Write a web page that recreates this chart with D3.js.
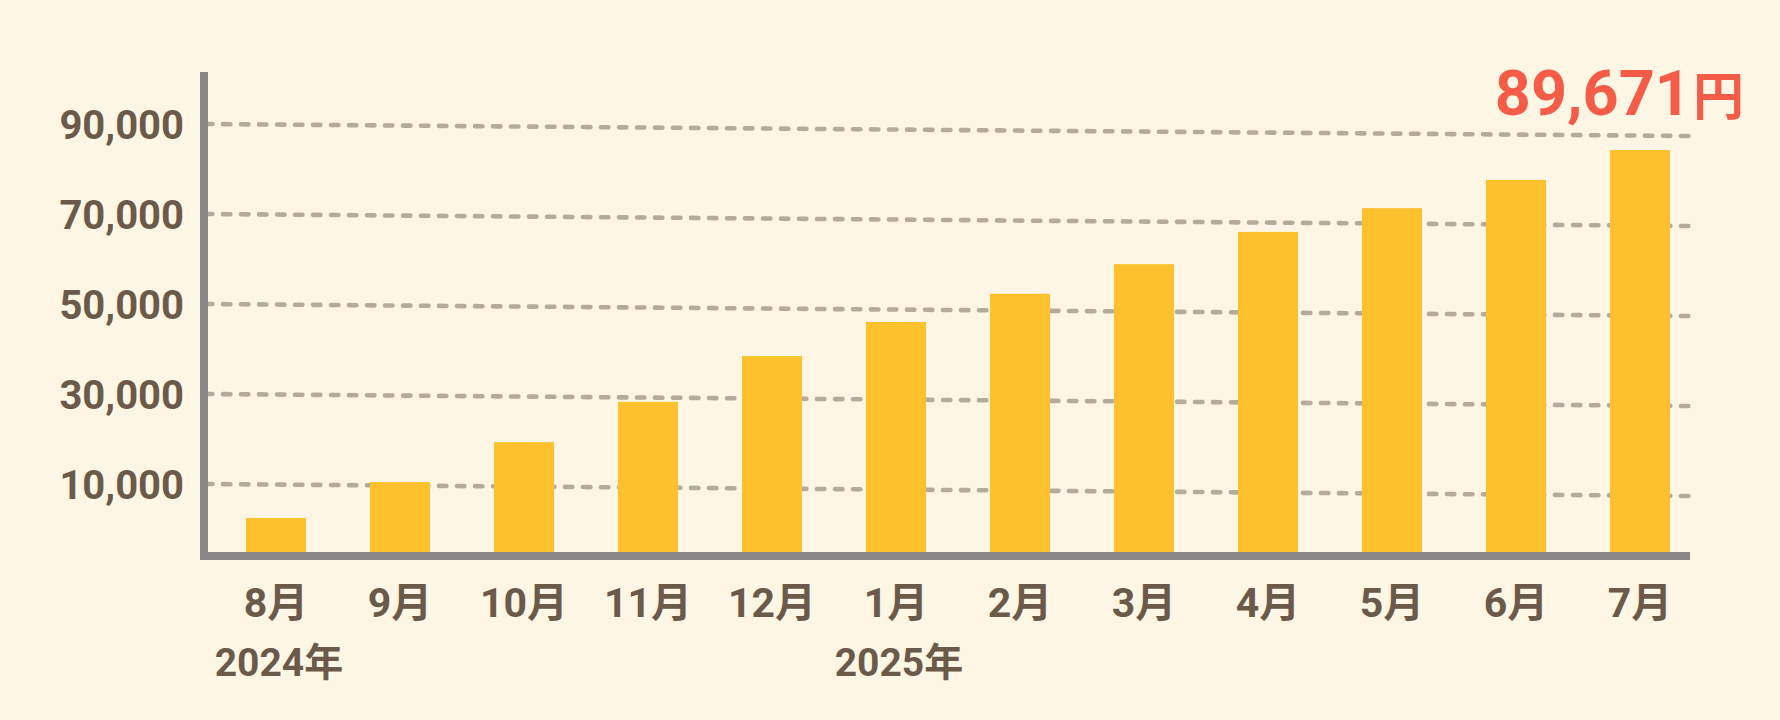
<!DOCTYPE html>
<html>
<head>
<meta charset="utf-8">
<script src="https://cdn.jsdelivr.net/npm/d3@7"></script>
<style>
  html, body { margin: 0; padding: 0; background: #fef6e5; }
  svg { display: block; }
  text { font-family: Roboto, "Noto Sans CJK JP", sans-serif; font-weight: 700; }
</style>
</head>
<body>
<svg id="chart" width="1780" height="720"></svg>
<script>
// ---- data ----
const months = ["8月", "9月", "10月", "11月", "12月", "1月", "2月", "3月", "4月", "5月", "6月", "7月"];
const values = [7600, 15600, 24500, 33500, 43700, 51300, 57600, 64200, 71400, 76700, 83000, 89671];
const gridTicks = [10000, 30000, 50000, 70000, 90000];
const yearLabels = ["2024年", "2025年"];
const yearAt = ["8月", "1月"];
const totalValue = "89,671";
const totalUnit = "円";

// ---- layout ----
const W = 1780, H = 720;
const plotLeft = 208, plotRight = 1690, baseY = 552, axisTop = 72;
const svg = d3.select("#chart");
svg.append("rect").attr("width", W).attr("height", H).attr("fill", "#fef6e5");

const x = d3.scaleBand().domain(months).range([214, 1702]).paddingInner(0.516).paddingOuter(0.258);
const y = d3.scaleLinear().domain([0, 89671]).range([baseY, 150]);
// gridline / label positions (as drawn in the reference, offset from bar scale)
const yGrid = d3.scaleLinear().domain([10000, 90000]).range([484, 124]);
const slant = 12;

// gridlines
svg.append("g").selectAll("line").data(gridTicks).join("line")
  .attr("x1", plotLeft).attr("x2", plotRight)
  .attr("y1", d => yGrid(d)).attr("y2", d => yGrid(d) + slant)
  .attr("stroke", "#b4ab9a").attr("stroke-width", 4.6)
  .attr("stroke-linecap", "round").attr("stroke-dasharray", "7.4 10.6")
  .attr("stroke-dashoffset", 3);

// y labels via axis
const yAxis = svg.append("g").attr("transform", `translate(184,1.5)`)
  .call(d3.axisLeft(yGrid).tickValues(gridTicks).tickSize(0).tickPadding(0).tickFormat(d3.format(",")));
yAxis.select(".domain").remove();
yAxis.selectAll("text").attr("fill", "#6b5a4a").style("font-size", "40px")
  .style("font-family", "Roboto, 'Noto Sans CJK JP', sans-serif").style("font-weight", 700);

// bars
svg.append("g").selectAll("rect").data(values).join("rect")
  .attr("x", (d, i) => x(months[i])).attr("width", x.bandwidth())
  .attr("y", d => y(d)).attr("height", d => baseY - y(d))
  .attr("fill", "#fdc12d");

// axis lines
svg.append("line").attr("x1", 204).attr("x2", 204).attr("y1", axisTop).attr("y2", 560)
  .attr("stroke", "#888686").attr("stroke-width", 8);
svg.append("line").attr("x1", 200).attr("x2", plotRight).attr("y1", 556).attr("y2", 556)
  .attr("stroke", "#888686").attr("stroke-width", 8);

// month labels via axis
const xAxis = svg.append("g").attr("transform", `translate(0,617)`)
  .call(d3.axisBottom(x).tickSize(0).tickPadding(0));
xAxis.select(".domain").remove();
xAxis.selectAll("text").attr("fill", "#6b5a4a").attr("dy", 0).style("font-size", "41px")
  .style("font-family", "Roboto, 'Noto Sans CJK JP', sans-serif").style("font-weight", 700);

// year labels
svg.append("g").selectAll("text").data(yearLabels).join("text")
  .attr("x", (d, i) => x(yearAt[i]) + x.bandwidth() / 2 + 3)
  .attr("y", 676)
  .attr("text-anchor", "middle")
  .attr("fill", "#6b5a4a").style("font-size", "39px")
  .text(d => d);

// total label
const t = svg.append("text").attr("x", 1744).attr("y", 115).attr("text-anchor", "end").attr("fill", "#f45c48");
t.append("tspan").style("font-size", "63px").text(totalValue);
t.append("tspan").style("font-size", "51px").attr("dx", 2).text(totalUnit);
</script>
</body>
</html>
